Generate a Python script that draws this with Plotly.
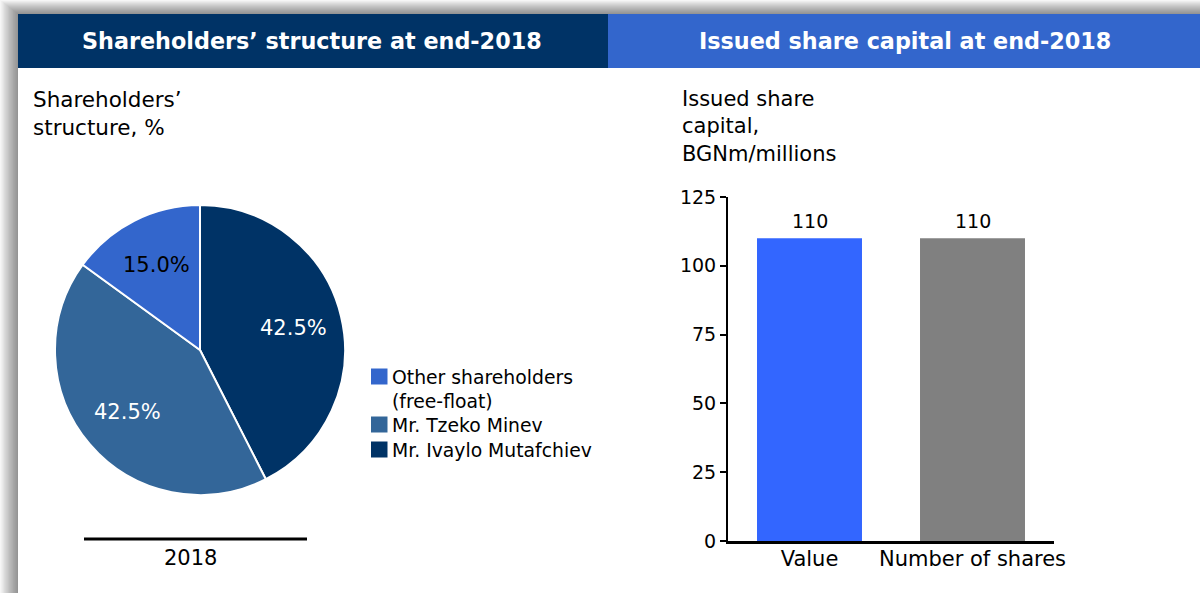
import numpy as np
import plotly.graph_objects as go

W, H = 1200, 593

# Shareholder structure at end-2018 (%), listed in legend order
holders = ["Other shareholders<br>(free-float)", "Mr. Tzeko Minev", "Mr. Ivaylo Mutafchiev"]
holder_share = [15.0, 42.5, 42.5]
holder_colors = ["#3366CC", "#336699", "#003366"]
holder_text_colors = ["#000000", "#ffffff", "#ffffff"]

# Issued share capital at end-2018
capital_items = ["Value", "Number of shares"]
capital_values = [110, 110]
capital_colors = ["#3366FF", "#808080"]
capital_ticks = [0, 25, 50, 75, 100, 125]

FONT = "DejaVu Sans"

# pie geometry (pixels)
PIE_CX, PIE_CY, PIE_R = 200, 350, 145
LABEL_R = 0.66


def px(x):
    return x / W


def py(y):
    return 1 - y / H


fig = go.Figure()

# Pie drawn clockwise from 12 o'clock, last legend entry first
pie_labels = holders[::-1]
pie_values = holder_share[::-1]
pie_colors = holder_colors[::-1]
pie_text_colors = holder_text_colors[::-1]

fig.add_trace(go.Pie(
    labels=pie_labels,
    values=pie_values,
    sort=False,
    direction="clockwise",
    rotation=0,
    marker=dict(colors=pie_colors, line=dict(color="white", width=2)),
    textinfo="none",
    domain=dict(x=[px(PIE_CX - PIE_R), px(PIE_CX + PIE_R)],
                y=[py(PIE_CY + PIE_R), py(PIE_CY - PIE_R)]),
    hoverinfo="label+percent",
    showlegend=False,
))

# Bars
fig.add_trace(go.Bar(
    x=capital_items,
    y=capital_values,
    marker=dict(color=capital_colors, line=dict(width=0)),
    showlegend=False,
    xaxis="x", yaxis="y",
))

shapes = []
# soft drop shadow along the top and left edges of the panel
n = 14
for k in range(n):
    f = (k + 1) / n
    shapes.append(dict(
        type="rect", xref="paper", yref="paper", layer="below",
        x0=px(18 * (1 - f)), x1=1, y0=0, y1=py(14 * (1 - f)),
        fillcolor="rgba(0,0,0,0.036)", line=dict(width=0),
    ))
# white panel
shapes.append(dict(type="rect", xref="paper", yref="paper", layer="below",
                   x0=px(18), x1=1, y0=0, y1=py(14),
                   fillcolor="white", line=dict(width=0)))
# header bars
shapes.append(dict(type="rect", xref="paper", yref="paper", layer="below",
                   x0=px(18), x1=px(608), y0=py(68), y1=py(14),
                   fillcolor="#003366", line=dict(width=0)))
shapes.append(dict(type="rect", xref="paper", yref="paper", layer="below",
                   x0=px(608), x1=1, y0=py(68), y1=py(14),
                   fillcolor="#3366CC", line=dict(width=0)))
# rule under the pie
shapes.append(dict(type="line", xref="paper", yref="paper",
                   x0=px(84), x1=px(307), y0=py(539), y1=py(539),
                   line=dict(color="black", width=3)))

annotations = [
    dict(text="<b>Shareholders’ structure at end-2018</b>", x=px(312), y=py(41),
         xref="paper", yref="paper", xanchor="center", yanchor="middle", showarrow=False,
         font=dict(family=FONT, size=22.3, color="white")),
    dict(text="<b>Issued share capital at end-2018</b>", x=px(905), y=py(41),
         xref="paper", yref="paper", xanchor="center", yanchor="middle", showarrow=False,
         font=dict(family=FONT, size=22.3, color="white")),
    dict(text="Shareholders’<br>structure, %", x=px(31), y=py(85),
         xref="paper", yref="paper", xanchor="left", yanchor="top", align="left",
         showarrow=False, font=dict(family=FONT, size=21.5, color="black")),
    dict(text="Issued share<br>capital,<br>BGNm/millions", x=px(680), y=py(85),
         xref="paper", yref="paper", xanchor="left", yanchor="top", align="left",
         showarrow=False, font=dict(family=FONT, size=21, color="black")),
    dict(text="2018", x=px(190), y=py(558),
         xref="paper", yref="paper", xanchor="center", yanchor="middle",
         showarrow=False, font=dict(family=FONT, size=21, color="black")),
]

# Percentage labels placed along each slice's mid-angle
vals = np.array(pie_values, dtype=float)
total = vals.sum()
ends = np.cumsum(vals) / total * 360.0
mids = ends - vals / total * 180.0
for v, mid, tcol in zip(vals, mids, pie_text_colors):
    a = np.radians(mid)
    lx = PIE_CX + LABEL_R * PIE_R * np.sin(a)
    ly = PIE_CY - LABEL_R * PIE_R * np.cos(a)
    annotations.append(dict(
        text=f"{v / total * 100:.1f}%", x=px(lx), y=py(ly),
        xref="paper", yref="paper", xanchor="center", yanchor="middle",
        showarrow=False, font=dict(family=FONT, size=21, color=tcol),
    ))

# Value labels above the bars
for item, v in zip(capital_items, capital_values):
    annotations.append(dict(
        text=str(v), x=item, y=v, xref="x", yref="y",
        xanchor="center", yanchor="bottom", yshift=4, showarrow=False,
        font=dict(family=FONT, size=19, color="black"),
    ))

# Legend for the pie: colour swatch plus label, one row per shareholder
legend_rows_y = [376.5, 424.5, 449.5]
for name, color, ry in zip(holders, holder_colors, legend_rows_y):
    shapes.append(dict(type="rect", xref="paper", yref="paper",
                       x0=px(371), x1=px(387.5), y0=py(ry + 8), y1=py(ry - 8),
                       fillcolor=color, line=dict(width=0)))
    annotations.append(dict(
        text=name, x=px(390), y=py(ry - 12), xref="paper", yref="paper",
        xanchor="left", yanchor="top", align="left", showarrow=False,
        font=dict(family=FONT, size=18.8, color="black"),
    ))

fig.update_layout(
    width=W, height=H,
    margin=dict(l=0, r=0, t=0, b=0, autoexpand=False),
    paper_bgcolor="white",
    plot_bgcolor="rgba(0,0,0,0)",
    font=dict(family=FONT, size=19, color="black"),
    shapes=shapes,
    annotations=annotations,
    bargap=0.356,
    showlegend=False,
    xaxis=dict(
        domain=[px(728), px(1054)], anchor="y",
        showline=True, linecolor="black", linewidth=3,
        ticks="", showgrid=False, zeroline=False, automargin=False,
        ticklabelstandoff=-3,
        tickfont=dict(family=FONT, size=21, color="black"),
        fixedrange=True,
    ),
    yaxis=dict(
        domain=[py(541), py(197)], anchor="x",
        range=[0, 125], tickvals=capital_ticks,
        showline=True, linecolor="black", linewidth=2,
        ticks="outside", ticklen=6, tickwidth=2, tickcolor="black",
        showgrid=False, zeroline=False, automargin=False,
        tickfont=dict(family=FONT, size=19, color="black"),
        fixedrange=True,
    ),
)

fig.write_html("out.html")
